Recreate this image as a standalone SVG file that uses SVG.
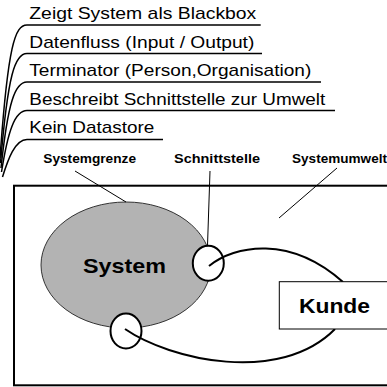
<svg xmlns="http://www.w3.org/2000/svg" width="387" height="387" viewBox="0 0 387 387">
<style>
.note{font-family:"Liberation Sans",Arial,sans-serif;font-size:17px;fill:#000}
.lbl{font-family:"Liberation Sans",Arial,sans-serif;font-size:13px;font-weight:bold;fill:#000}
.big{font-family:"Liberation Sans",Arial,sans-serif;font-size:21px;font-weight:bold;fill:#000}
.ul{fill:none;stroke:#000;stroke-width:1.5}
.lead{fill:none;stroke:#000;stroke-width:1}
.flow{fill:none;stroke:#000;stroke-width:2}
.port{fill:#fff;stroke:#000;stroke-width:2}
</style>
<rect width="387" height="387" fill="#fff"/>
<g id="notes">
<text class="note" x="29.3" y="19.3" textLength="227" lengthAdjust="spacingAndGlyphs">Zeigt System als Blackbox</text>
<text class="note" x="29.3" y="47.8" textLength="225" lengthAdjust="spacingAndGlyphs">Datenfluss (Input / Output)</text>
<text class="note" x="29.3" y="76.3" textLength="282" lengthAdjust="spacingAndGlyphs">Terminator (Person,Organisation)</text>
<text class="note" x="29.3" y="104.8" textLength="296" lengthAdjust="spacingAndGlyphs">Beschreibt Schnittstelle zur Umwelt</text>
<text class="note" x="29.3" y="133.3" textLength="125" lengthAdjust="spacingAndGlyphs">Kein Datastore</text>
<path class="ul" d="M260.7,25 H27 C15,25 8,45 0,158"/>
<path class="ul" d="M262,53.5 H27 C15,53.5 8,73.5 0.5,163"/>
<path class="ul" d="M321,82 H27 C15,82 8,102 1,168"/>
<path class="ul" d="M335,110.5 H27 C15,110.5 8,130.5 1.5,172"/>
<path class="ul" d="M163,139.5 H27 C15,139.5 8,159.5 2.5,177"/>
</g>
<g id="boundary">
<rect x="14" y="185.7" width="390" height="199.6" fill="none" stroke="#000" stroke-width="2"/>
</g>
<g id="system">
<ellipse cx="126" cy="265" rx="85" ry="63" fill="#b3b3b3" stroke="#333" stroke-width="1"/>
<text class="big" x="83" y="272.7" textLength="83" lengthAdjust="spacingAndGlyphs">System</text>
</g>
<g id="port-top">
<ellipse class="port" cx="208.3" cy="263.3" rx="15.5" ry="17.5"/>
</g>
<g id="port-bottom">
<ellipse class="port" cx="126" cy="331" rx="15.5" ry="17.5"/>
</g>
<g id="connectors">
<path class="flow" d="M209,266 C235,245 290,235 343,282"/>
<path class="flow" d="M125,329 C170,360 280,385 335,329"/>
</g>
<g id="kunde">
<rect x="279.3" y="281.7" width="120" height="47.3" fill="#fff" stroke="#000" stroke-width="1"/>
<text class="big" x="299" y="312.7" textLength="71" lengthAdjust="spacingAndGlyphs">Kunde</text>
</g>
<g id="labels">
<text class="lbl" x="43.3" y="162.7" textLength="92.7" lengthAdjust="spacingAndGlyphs">Systemgrenze</text>
<text class="lbl" x="174" y="162.7" textLength="86" lengthAdjust="spacingAndGlyphs">Schnittstelle</text>
<text class="lbl" x="292" y="162.7" textLength="95" lengthAdjust="spacingAndGlyphs">Systemumwelt</text>
<path class="lead" d="M75,171 L126,202"/>
<path class="lead" d="M210,171 L207.5,245.5"/>
<path class="lead" d="M337,168 L279,218"/>
</g>
</svg>
